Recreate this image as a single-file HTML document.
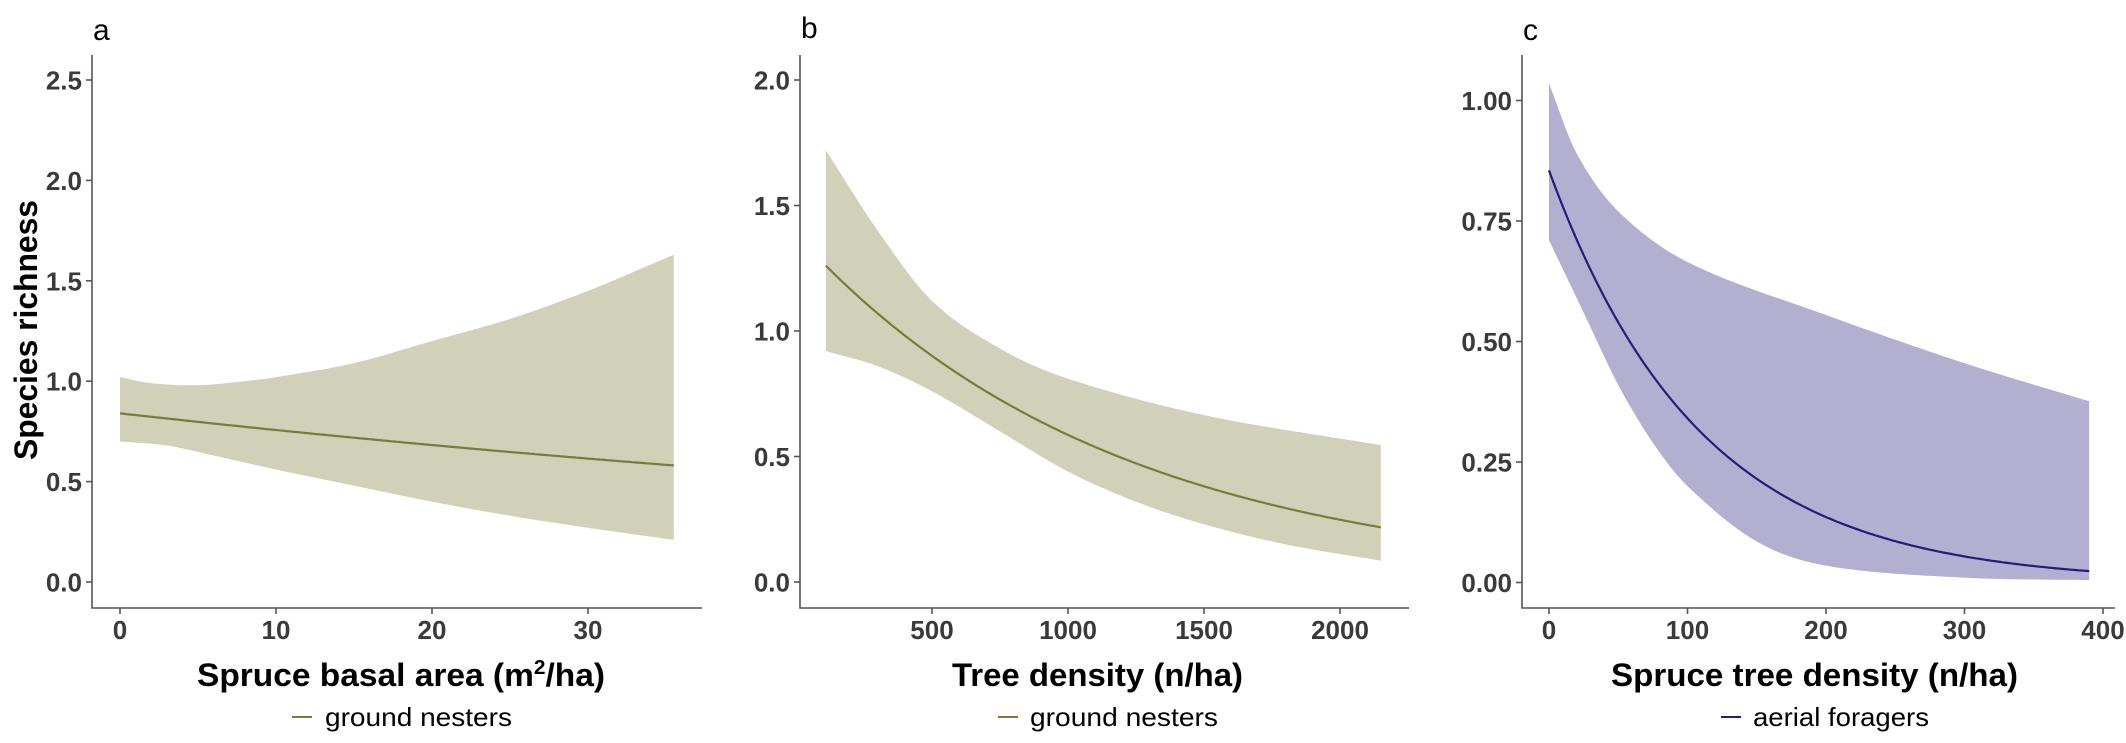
<!DOCTYPE html>
<html><head><meta charset="utf-8"><style>
html,body{margin:0;padding:0;background:#fff;}
svg{display:block;}
.tk{font-family:"Liberation Sans",sans-serif;font-weight:bold;font-size:26px;fill:#3a3a3a;}
.ti{font-family:"Liberation Sans",sans-serif;font-weight:bold;font-size:32px;fill:#000;}
.lg{font-family:"Liberation Sans",sans-serif;font-size:26px;fill:#000;}
.pl{font-family:"Liberation Sans",sans-serif;font-size:30px;fill:#000;}
</style></head><body>
<svg id="s" width="2126" height="743" viewBox="0 0 2126 743" xmlns="http://www.w3.org/2000/svg">
<g id="bands"></g>
<g stroke="#555" stroke-width="1.6" fill="none">
<path d="M92 55V608H702"/>
<path d="M800 55V608H1409"/>
<path d="M1522 55V608H2115"/>
</g>
<g id="ticks" stroke="#555" stroke-width="1.6"></g>
<g id="labels"></g>
<text class="pl" x="93" y="40">a</text>
<text class="pl" x="801" y="38">b</text>
<text class="pl" x="1523" y="40">c</text>
<text class="ti" x="197" y="686" textLength="408" lengthAdjust="spacingAndGlyphs">Spruce basal area (m<tspan font-size="20" dy="-12">2</tspan><tspan dy="12">/ha)</tspan></text>
<text class="ti" x="952" y="686" textLength="291" lengthAdjust="spacingAndGlyphs">Tree density (n/ha)</text>
<text class="ti" x="1611" y="686" textLength="407" lengthAdjust="spacingAndGlyphs">Spruce tree density (n/ha)</text>
<text class="ti" transform="translate(37,460) rotate(-90)" x="0" y="0" textLength="260" lengthAdjust="spacingAndGlyphs">Species richness</text>
<line x1="292" y1="717" x2="312" y2="717" stroke="#7a7a3a" stroke-width="2"/>
<text class="lg" x="325" y="726" textLength="187" lengthAdjust="spacingAndGlyphs">ground nesters</text>
<line x1="998" y1="717" x2="1018" y2="717" stroke="#7a7a3a" stroke-width="2"/>
<text class="lg" x="1030" y="726" textLength="188" lengthAdjust="spacingAndGlyphs">ground nesters</text>
<line x1="1721" y1="717" x2="1741" y2="717" stroke="#2a1a7a" stroke-width="2"/>
<text class="lg" x="1753" y="726" textLength="176" lengthAdjust="spacingAndGlyphs">aerial foragers</text>
</svg>
<script>
function interp(pts,x){for(var i=0;i<pts.length-1;i++){if(x<=pts[i+1][0]){var a=pts[i],b=pts[i+1];var t=(x-a[0])/(b[0]-a[0]);
var p0=pts[Math.max(i-1,0)],p3=pts[Math.min(i+2,pts.length-1)];
var m1=(b[1]-p0[1])/(b[0]-p0[0])*(b[0]-a[0]),m2=(p3[1]-a[1])/(p3[0]-a[0])*(b[0]-a[0]);
var t2=t*t,t3=t2*t;return (2*t3-3*t2+1)*a[1]+(t3-2*t2+t)*m1+(-2*t3+3*t2)*b[1]+(t3-t2)*m2;}}return pts[pts.length-1][1];}
var NS="http://www.w3.org/2000/svg";
function el(tag,attrs,parent){var e=document.createElementNS(NS,tag);for(var k in attrs)e.setAttribute(k,attrs[k]);document.getElementById(parent).appendChild(e);return e;}
function panel(p){var n=200,up=[],lo=[],mn=[];
for(var i=0;i<=n;i++){var x=p.x0+(p.x1-p.x0)*i/n;var px=p.X(x);
up.push(px.toFixed(1)+","+p.Y(interp(p.up,x)).toFixed(1));
lo.push(px.toFixed(1)+","+p.Y(interp(p.lo,x)).toFixed(1));
mn.push(px.toFixed(1)+","+p.Y(p.mean(x)).toFixed(1));}
el("path",{d:"M"+up.join("L")+"L"+lo.reverse().join("L")+"Z",fill:p.fill},"bands");
el("path",{d:"M"+mn.join("L"),fill:"none",stroke:p.line,"stroke-width":2.2},"bands");
p.yt.forEach(function(v){var y=p.Y(v[0]);el("line",{x1:p.ax-6,x2:p.ax,y1:y,y2:y},"ticks");
var t=el("text",{"class":"tk",x:p.ax-10,y:y+9.5,"text-anchor":"end"},"labels");t.textContent=v[1];});
p.xt.forEach(function(v){var x=p.X(v[0]);el("line",{x1:x,x2:x,y1:608,y2:614},"ticks");
var t=el("text",{"class":"tk",x:x,y:639,"text-anchor":"middle"},"labels");t.textContent=v[1];});}
panel({X:function(v){return 120+v*15.6},Y:function(v){return 582-v*200.8},x0:0,x1:35.5,ax:92,
fill:"#d1d0b9",line:"#7a7a3a",
mean:function(x){return 0.84*Math.exp(-0.01041*x)},
up:[[0,1.02],[2,0.99],[5,0.98],[8,1.0],[10,1.02],[15,1.09],[20,1.2],[25,1.31],[30,1.45],[35.5,1.63]],
lo:[[0,0.70],[3,0.68],[6,0.63],[10,0.56],[15,0.48],[20,0.40],[25,0.33],[30,0.27],[35.5,0.21]],
yt:[[0,"0.0"],[0.5,"0.5"],[1,"1.0"],[1.5,"1.5"],[2,"2.0"],[2.5,"2.5"]],
xt:[[0,"0"],[10,"10"],[20,"20"],[30,"30"]]});
panel({X:function(v){return 796+v*0.272},Y:function(v){return 582-v*251},x0:110,x1:2150,ax:800,
fill:"#d1d0b9",line:"#7a7a3a",
mean:function(x){return 1.26*Math.exp(-0.00086*(x-110))},
up:[[110,1.72],[300,1.40],[500,1.12],[750,0.93],[1000,0.81],[1500,0.665],[2150,0.545]],
lo:[[110,0.92],[300,0.86],[500,0.76],[750,0.60],[1000,0.44],[1250,0.32],[1500,0.23],[1800,0.15],[2150,0.085]],
yt:[[0,"0.0"],[0.5,"0.5"],[1,"1.0"],[1.5,"1.5"],[2,"2.0"]],
xt:[[500,"500"],[1000,"1000"],[1500,"1500"],[2000,"2000"]]});
panel({X:function(v){return 1549+v*1.385},Y:function(v){return 582.5-v*482},x0:0,x1:390,ax:1522,
fill:"#b3afd0",line:"#2a1a7a",
mean:function(x){return 0.855*Math.exp(-0.0092*x)},
up:[[0,1.035],[20,0.89],[50,0.77],[100,0.665],[200,0.555],[300,0.455],[390,0.376]],
lo:[[0,0.71],[25,0.56],[50,0.41],[75,0.29],[100,0.20],[150,0.085],[200,0.035],[300,0.01],[390,0.005]],
yt:[[0,"0.00"],[0.25,"0.25"],[0.5,"0.50"],[0.75,"0.75"],[1,"1.00"]],
xt:[[0,"0"],[100,"100"],[200,"200"],[300,"300"],[400,"400"]]});
</script>
</body></html>
